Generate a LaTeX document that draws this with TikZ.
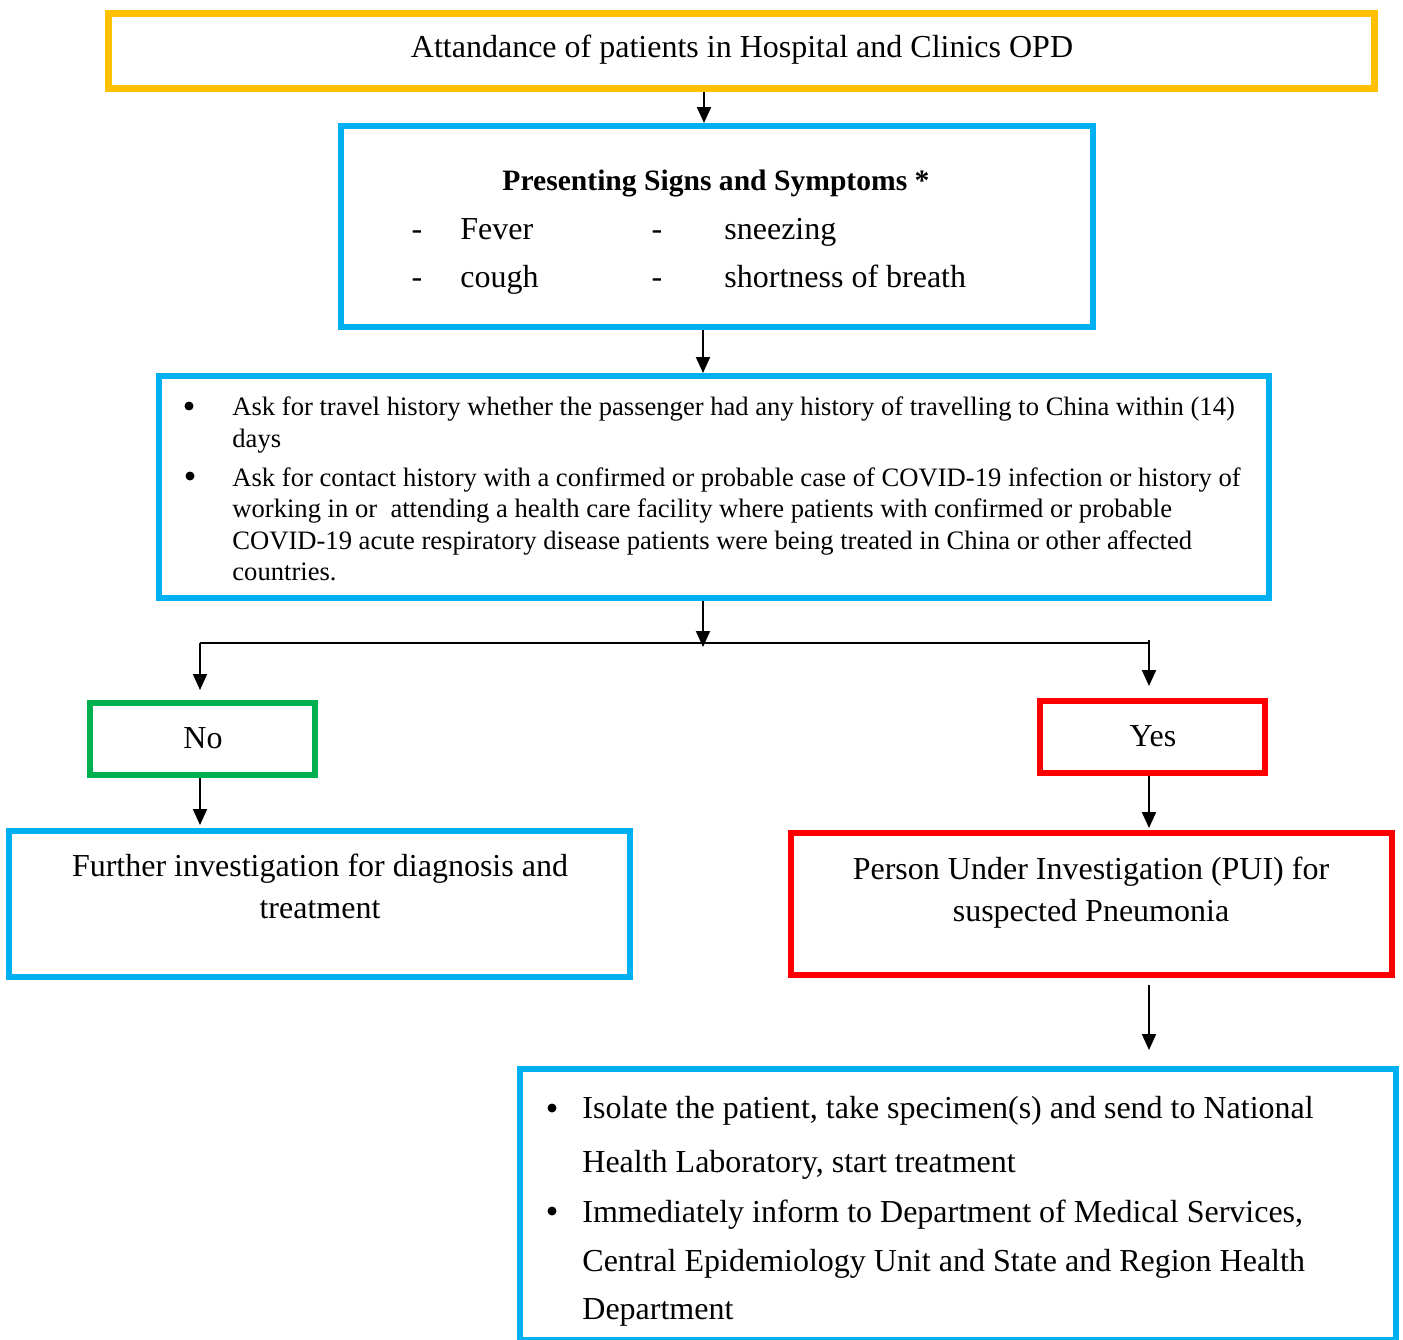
\documentclass[tikz,border=0pt]{standalone}
\usepackage{fontspec}
\setmainfont{Liberation Serif}
\usetikzlibrary{arrows.meta}
\definecolor{cyanbox}{HTML}{00B0F0}
\definecolor{goldbox}{HTML}{FFC000}
\definecolor{greenbox}{HTML}{00B050}
\definecolor{redbox}{HTML}{FF0000}
\begin{document}
\begin{tikzpicture}[x=0.5pt,y=-0.5pt,
  box/.style n args={2}{draw, line width=3pt, inner sep=0pt, fill=none,
    minimum width=#1*0.5pt, minimum height=#2*0.5pt},
  txt/.style={inner sep=0pt, font=\fontsize{16pt}{19pt}\selectfont},
  small/.style={inner sep=0pt, font=\fontsize{13.3pt}{16pt}\selectfont},
  head/.style={inner sep=0pt, font=\fontsize{14.8pt}{18pt}\selectfont\bfseries},
  dot/.style={circle, fill=black, draw=none, inner sep=0pt, minimum size=#1*0.5pt},
  arr/.style={line width=1pt, -{Triangle[length=8pt,width=7pt]}},
  link/.style={line width=1pt}]
\path[use as bounding box] (0,0) rectangle (1403,1339);

% boxes
\node[box={1266}{75}, draw=goldbox, line width=3.5pt] (title) at (741.5,51) {};
\node[box={752}{201}, draw=cyanbox] (sym) at (717,226.5) {};
\node[box={1110}{222}, draw=cyanbox] (hist) at (714,487) {};
\node[box={225}{72}, draw=greenbox] (no) at (202.5,739) {};
\node[box={225}{72}, draw=redbox] (yes) at (1152.5,737) {};
\node[box={621}{146}, draw=cyanbox] (further) at (319.5,904) {};
\node[box={601}{142}, draw=redbox] (pui) at (1091.5,904) {};
\node[box={876}{271}, draw=cyanbox] (act) at (958,1204.5) {};

% texts
\node[txt, anchor=base] (t0) at (742,57) {Attandance of patients in Hospital and Clinics OPD};

\node[head, anchor=base] (h1) at (716,190) {Presenting Signs and Symptoms *};
\node[txt, anchor=base] (d1) at (417,239) {-};
\node[txt, anchor=base west] (s1) at (460,239) {Fever};
\node[txt, anchor=base] (d2) at (657,239) {-};
\node[txt, anchor=base west] (s2) at (724,239) {sneezing};
\node[txt, anchor=base] (d3) at (417,287) {-};
\node[txt, anchor=base west] (s3) at (460,287) {cough};
\node[txt, anchor=base] (d4) at (657,287) {-};
\node[txt, anchor=base west] (s4) at (724,287) {shortness of breath};

\node[dot=9] (b1) at (189,406) {};
\node[small, anchor=base west] (l1) at (232,415) {Ask for travel history whether the passenger had any history of travelling to China within (14)};
\node[small, anchor=base west] (l2) at (232,447) {days};
\node[dot=9] (b2) at (190,476) {};
\node[small, anchor=base west] (l3) at (232,486) {Ask for contact history with a confirmed or probable case of COVID-19 infection or history of};
\node[small, anchor=base west] (l4) at (232,517) {working in or\ \ attending a health care facility where patients with confirmed or probable};
\node[small, anchor=base west] (l5) at (232,549) {COVID-19 acute respiratory disease patients were being treated in China or other affected};
\node[small, anchor=base west] (l6) at (232,580) {countries.};

\node[txt, anchor=base] (tno) at (203,748) {No};
\node[txt, anchor=base] (tyes) at (1153,746) {Yes};

\node[txt, anchor=base] (f1) at (320,876) {Further investigation for diagnosis and};
\node[txt, anchor=base] (f2) at (320,918) {treatment};

\node[txt, anchor=base] (p1) at (1091,879) {Person Under Investigation (PUI) for};
\node[txt, anchor=base] (p2) at (1091,921) {suspected Pneumonia};

\node[dot=9] (c1) at (552,1108) {};
\node[txt, anchor=base west] (a1) at (582,1118) {Isolate the patient, take specimen(s) and send to National};
\node[txt, anchor=base west] (a2) at (582,1172) {Health Laboratory, start treatment};
\node[dot=9] (c2) at (552,1211) {};
\node[txt, anchor=base west] (a3) at (582,1222) {Immediately inform to Department of Medical Services,};
\node[txt, anchor=base west] (a4) at (582,1271) {Central Epidemiology Unit and State and Region Health};
\node[txt, anchor=base west] (a5) at (582,1319) {Department};

% connectors
\coordinate (x1) at (704,0);
\coordinate (j) at (703,643);
\coordinate (jl) at (200,643);
\coordinate (jr) at (1149,643);
\draw[arr] (title.south -| x1) -- (sym.north -| x1);
\draw[arr] (sym.south -| j) -- (hist.north -| j);
\draw[arr] (hist.south -| j) -- ([yshift=-2pt]j);
\draw[link] (jl) -- (jr);
\draw[arr, shorten >=5pt] ([yshift=0.25pt]jl) -- (no.north -| jl);
\draw[arr, shorten >=6pt] ([yshift=1.5pt]jr) -- (yes.north -| jr);
\draw[arr, shorten >=1.5pt] (no.south -| jl) -- (further.north -| jl);
\draw[arr, shorten >=1pt] (yes.south -| jr) -- (pui.north -| jr);
\draw[arr, shorten <=3.5pt, shorten >=8pt] (pui.south -| jr) -- (act.north -| jr);
\end{tikzpicture}
\end{document}
